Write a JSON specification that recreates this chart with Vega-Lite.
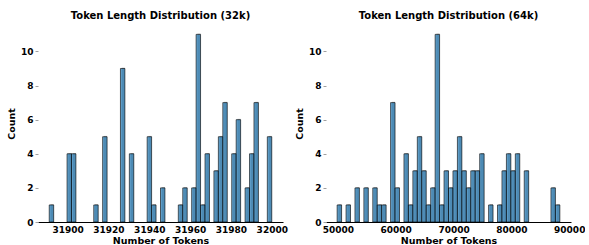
{
  "$schema": "https://vega.github.io/schema/vega-lite/v6.json",
  "datasets": {
    "d32": [
      {"start": 31891.00, "end": 31893.18, "count": 1},
      {"start": 31899.72, "end": 31901.90, "count": 4},
      {"start": 31901.90, "end": 31904.08, "count": 4},
      {"start": 31912.80, "end": 31914.98, "count": 1},
      {"start": 31917.16, "end": 31919.34, "count": 5},
      {"start": 31925.88, "end": 31928.06, "count": 9},
      {"start": 31930.24, "end": 31932.42, "count": 4},
      {"start": 31938.96, "end": 31941.14, "count": 5},
      {"start": 31941.14, "end": 31943.32, "count": 1},
      {"start": 31945.50, "end": 31947.68, "count": 2},
      {"start": 31954.22, "end": 31956.40, "count": 1},
      {"start": 31956.40, "end": 31958.58, "count": 2},
      {"start": 31960.76, "end": 31962.94, "count": 2},
      {"start": 31962.94, "end": 31965.12, "count": 11},
      {"start": 31965.12, "end": 31967.30, "count": 1},
      {"start": 31967.30, "end": 31969.48, "count": 4},
      {"start": 31971.66, "end": 31973.84, "count": 3},
      {"start": 31973.84, "end": 31976.02, "count": 5},
      {"start": 31976.02, "end": 31978.20, "count": 7},
      {"start": 31980.38, "end": 31982.56, "count": 4},
      {"start": 31982.56, "end": 31984.74, "count": 6},
      {"start": 31986.92, "end": 31989.10, "count": 2},
      {"start": 31989.10, "end": 31991.28, "count": 4},
      {"start": 31991.28, "end": 31993.46, "count": 7},
      {"start": 31997.82, "end": 32000.00, "count": 5}
    ],
    "d64": [
      {"start": 49880, "end": 50650, "count": 1},
      {"start": 51420, "end": 52190, "count": 1},
      {"start": 52960, "end": 53730, "count": 2},
      {"start": 54500, "end": 55270, "count": 2},
      {"start": 56040, "end": 56810, "count": 2},
      {"start": 56810, "end": 57580, "count": 1},
      {"start": 57580, "end": 58350, "count": 1},
      {"start": 59120, "end": 59890, "count": 7},
      {"start": 59890, "end": 60660, "count": 2},
      {"start": 61430, "end": 62200, "count": 4},
      {"start": 62200, "end": 62970, "count": 1},
      {"start": 62970, "end": 63740, "count": 3},
      {"start": 63740, "end": 64510, "count": 5},
      {"start": 64510, "end": 65280, "count": 3},
      {"start": 65280, "end": 66050, "count": 1},
      {"start": 66050, "end": 66820, "count": 2},
      {"start": 66820, "end": 67590, "count": 11},
      {"start": 67590, "end": 68360, "count": 1},
      {"start": 68360, "end": 69130, "count": 3},
      {"start": 69130, "end": 69900, "count": 2},
      {"start": 69900, "end": 70670, "count": 3},
      {"start": 70670, "end": 71440, "count": 5},
      {"start": 71440, "end": 72210, "count": 3},
      {"start": 72210, "end": 72980, "count": 2},
      {"start": 72980, "end": 73750, "count": 3},
      {"start": 73750, "end": 74520, "count": 3},
      {"start": 74520, "end": 75290, "count": 4},
      {"start": 76060, "end": 76830, "count": 1},
      {"start": 77600, "end": 78370, "count": 1},
      {"start": 78370, "end": 79140, "count": 3},
      {"start": 79140, "end": 79910, "count": 4},
      {"start": 79910, "end": 80680, "count": 3},
      {"start": 80680, "end": 81450, "count": 4},
      {"start": 82220, "end": 82990, "count": 3},
      {"start": 86840, "end": 87610, "count": 2},
      {"start": 87610, "end": 88380, "count": 1}
    ]
  },
  "padding": {"left": 6, "right": 0, "top": 11, "bottom": 0},
  "spacing": 6,
  "config": {
    "font": "DejaVu Sans",
    "view": {"stroke": null},
    "title": {"fontSize": 10, "fontWeight": "bold", "color": "#000", "offset": 0, "anchor": "middle", "font": "DejaVu Sans"},
    "axis": {
      "grid": false,
      "labelFont": "DejaVu Sans",
      "labelFontWeight": "bold",
      "labelFontSize": 9,
      "labelColor": "#000",
      "titleFont": "DejaVu Sans",
      "titleFontWeight": "bold",
      "titleFontSize": 9.5,
      "titleColor": "#000"
    },
    "axisX": {"domain": true, "domainColor": "#000", "domainWidth": 1, "ticks": false, "labelPadding": 3, "titlePadding": 1, "labelFlush": false},
    "axisY": {"domain": false, "ticks": true, "tickSize": 3, "tickColor": "#888", "tickWidth": 0.8, "labelPadding": 2, "titlePadding": 4}
  },
  "hconcat": [
    {
      "width": 245,
      "height": 197,
      "title": "Token Length Distribution (32k)",
      "data": {"name": "d32"},
      "encoding": {
        "x": {"field": "start", "type": "quantitative", "title": "Number of Tokens",
              "scale": {"domain": [31885.5, 32005.5], "nice": false, "zero": false},
              "axis": {"values": [31900, 31920, 31940, 31960, 31980, 32000], "format": "d"}},
        "x2": {"field": "end"},
        "y": {"field": "count", "type": "quantitative", "title": "Count",
              "scale": {"domain": [0, 11.55], "nice": false},
              "axis": {"values": [0, 2, 4, 6, 8, 10]}},
        "y2": {"datum": 0}
      },
      "layer": [
        {"mark": {"type": "bar", "color": "#8c8c8c", "opacity": 0.6, "xOffset": 1.3, "yOffset": -0.8}},
        {"mark": {"type": "bar", "fill": "#1f77b4", "fillOpacity": 0.7, "stroke": "#000", "strokeOpacity": 0.75, "strokeWidth": 0.8}}
      ]
    },
    {
      "width": 245,
      "height": 197,
      "title": "Token Length Distribution (64k)",
      "data": {"name": "d64"},
      "encoding": {
        "x": {"field": "start", "type": "quantitative", "title": "Number of Tokens",
              "scale": {"domain": [47955, 90305], "nice": false, "zero": false},
              "axis": {"values": [50000, 60000, 70000, 80000, 90000], "format": "d"}},
        "x2": {"field": "end"},
        "y": {"field": "count", "type": "quantitative", "title": "Count",
              "scale": {"domain": [0, 11.55], "nice": false},
              "axis": {"values": [0, 2, 4, 6, 8, 10]}},
        "y2": {"datum": 0}
      },
      "layer": [
        {"mark": {"type": "bar", "color": "#8c8c8c", "opacity": 0.6, "xOffset": 1.3, "yOffset": -0.8}},
        {"mark": {"type": "bar", "fill": "#1f77b4", "fillOpacity": 0.7, "stroke": "#000", "strokeOpacity": 0.75, "strokeWidth": 0.8}}
      ]
    }
  ]
}
